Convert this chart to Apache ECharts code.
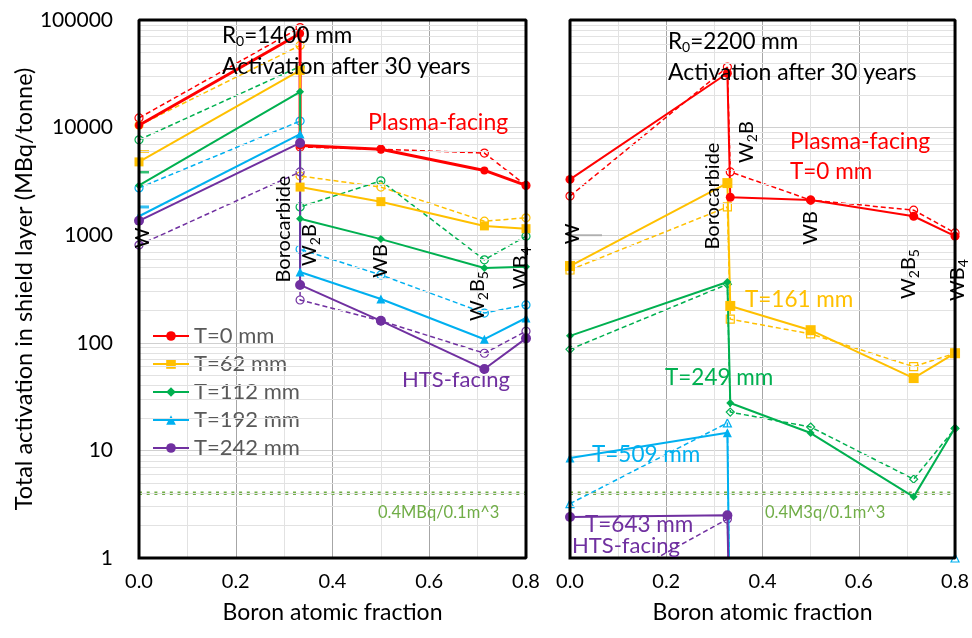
<!DOCTYPE html>
<html>
<head>
<meta charset="utf-8">
<script src="https://cdn.jsdelivr.net/npm/echarts@6/dist/echarts.min.js"></script>
<style>html,body{margin:0;padding:0;background:#fff}#main{width:972px;height:638px}</style>
</head>
<body>
<div id="main"></div>
<script>
// boron atomic fraction: W, borocarbide, W2B, WB, W2B5, WB4
var xLeft  = [0, 0.333, 0.333, 0.5, 0.714, 0.8];
var xRight = [0, 0.327, 0.333, 0.5, 0.714, 0.8];
var xTicks = [0, 0.2, 0.4, 0.6, 0.8];
var yTicks = [1, 10, 100, 1000, 10000, 100000];
var limitValue = 4; // 0.4MBq/0.1m^3

// R0 = 1400 mm
var namesLeft = ['T=0 mm', 'T=62 mm', 'T=112 mm', 'T=192 mm', 'T=242 mm'];
var left0   = [10500, 75000, 6800, 6300, 4000, 2900];
var left62  = [4800, 34000, 2800, 2050, 1220, 1150];
var left112 = [2900, 21500, 1420, 920, 495, 510];
var left192 = [1500, 8700, 455, 255, 108, 170];
var left242 = [1360, 7200, 345, 160, 57, 110];
var left0d   = [12300, 85000, 6600, 6300, 5800, 2900];
var left62d  = [10500, 58000, 3550, 2800, 1350, 1450];
var left112d = [7700, 37000, 1830, 3200, 590, 980];
var left192d = [2750, 11500, 740, 427, 189, 225];
var left242d = [810, 3870, 250, 160, 80, 128];
var leftTicksW = [6000, 3870, 1830];

// R0 = 2200 mm
var namesRight = ['T=0 mm', 'T=161 mm', 'T=249 mm', 'T=509 mm', 'T=643 mm'];
var right0   = [3300, 32000, 2250, 2120, 1500, 980];
var right161 = [517, 3050, 220, 131, 47, 80];
var right249 = [116, 367, 27.6, 14.5, 3.7, 16.2];
var right509 = [8.5, 14.6, 0.1, 0.1, 0.1, 0.1];
var right643 = [2.4, 2.5, 0.1, 0.1, 0.1, 0.1];
var right0d   = [2310, 36500, 3870, 2120, 1710, 1050];
var right161d = [475, 1830, 166, 121, 60, 80];
var right249d = [87, 350, 22.7, 16.5, 5.4, 16];
var right509d = [3.2, 18, 0.1, 0.1, 0.1, 1];
var right643d = [0.36, 2.3, 0.1, 0.1, 0.1, 0.1];
var rightTickW = [1000];

var colors = ['#ff0000', '#ffc000', '#00b050', '#00b0f0', '#7030a0'];
var FONT = 'Lato';

function pairs(xs, ys) {
  return xs.map(function (x, i) { return [x, ys[i]]; });
}

function solid(name, xs, ys, c, sym, size, idx, w) {
  return {
    name: name, type: 'line', xAxisIndex: idx, yAxisIndex: idx,
    data: pairs(xs, ys), symbol: sym, symbolSize: size, z: 5,
    itemStyle: {color: c}, lineStyle: {color: c, width: w || 2},
    animation: false
  };
}
function dashed(name, xs, ys, c, sym, size, idx) {
  return {
    name: name + ' (dash)', type: 'line', xAxisIndex: idx, yAxisIndex: idx,
    data: pairs(xs, ys), symbol: sym, symbolSize: size, z: 4,
    itemStyle: {color: 'rgba(255,255,255,0)', borderColor: c, borderWidth: 1.2},
    lineStyle: {color: c, width: 1.5, type: [5, 3]},
    animation: false
  };
}

// light log grid lines at 2..9 x 10^k
var minorVals = [];
[1, 10, 100, 1000, 10000].forEach(function (d) {
  [2, 3, 4, 5, 6, 7, 8, 9].forEach(function (m) { minorVals.push({yAxis: d * m}); });
});
function gridSeries(idx) {
  return {
    type: 'line', xAxisIndex: idx, yAxisIndex: idx, data: [], silent: true, z: 1,
    markLine: {silent: true, symbol: 'none', label: {show: false}, animation: false,
      lineStyle: {color: '#e2e2e2', width: 1, type: 'solid'}, data: minorVals}
  };
}
function limitSeries(idx) {
  return {
    type: 'line', xAxisIndex: idx, yAxisIndex: idx, symbol: 'none', z: 3,
    data: [[xTicks[0], limitValue], [xTicks[xTicks.length - 1], limitValue]],
    lineStyle: {color: '#70ad47', width: 3.5, type: [3, 4.7]}, animation: false
  };
}
// panel box drawn on the axes' own scale
function boxSeries(idx) {
  var x0 = xTicks[0], x1 = xTicks[xTicks.length - 1];
  var y0 = yTicks[0], y1 = yTicks[yTicks.length - 1];
  return {
    type: 'line', xAxisIndex: idx, yAxisIndex: idx, symbol: 'none', z: 8, silent: true,
    clip: false,
    data: [[x0, y0], [x1, y0], [x1, y1], [x0, y1], [x0, y0]],
    lineStyle: {color: '#000', width: 3, cap: 'square'}, animation: false
  };
}

var series = [gridSeries(0), gridSeries(1), limitSeries(0), limitSeries(1), boxSeries(0), boxSeries(1)];

var L = [left0, left62, left112, left192, left242];
var Ld = [left0d, left62d, left112d, left192d, left242d];
var symsL = ['circle', 'rect', 'diamond', 'triangle', 'circle'];
var sizesL = [8, 9, 8, 9, 10];
for (var i = 0; i < 5; i++) {
  series.push(dashed(namesLeft[i], xLeft, Ld[i], colors[i], 'circle', 8, 0));
}
for (var i = 0; i < 5; i++) {
  series.push(solid(namesLeft[i], xLeft, L[i], colors[i], symsL[i], sizesL[i], 0, i === 0 ? 3 : 2));
}
series.push({
  type: 'scatter', xAxisIndex: 0, yAxisIndex: 0, symbol: 'rect', symbolSize: [10, 3], symbolOffset: [5, 0],
  data: leftTicksW.map(function (v, i) { return {value: [xLeft[0], v], itemStyle: {color: colors[i + 1]}}; }),
  z: 3, animation: false
});

var R = [right0, right161, right249, right509, right643];
var Rd = [right0d, right161d, right249d, right509d, right643d];
var symsR = ['circle', 'rect', 'diamond', 'triangle', 'circle'];
var sizesR = [9, 10, 8, 9, 10];
for (var i = 0; i < 5; i++) {
  series.push(dashed(namesRight[i], xRight, Rd[i], colors[i], symsR[i], 8, 1));
}
for (var i = 0; i < 5; i++) {
  series.push(solid(namesRight[i] + ' ', xRight, R[i], colors[i], symsR[i], sizesR[i], 1, 2));
}
series.push({
  type: 'scatter', xAxisIndex: 1, yAxisIndex: 1, symbol: 'rect', symbolSize: [32, 2], symbolOffset: [16, 0],
  data: rightTickW.map(function (v) { return [xRight[0], v]; }),
  itemStyle: {color: '#a6a6a6'}, z: 3, animation: false
});

function xAxis(idx) {
  return {
    type: 'value', gridIndex: idx, min: xTicks[0], max: xTicks[xTicks.length - 1], interval: 0.2,
    name: 'Boron atomic fraction', nameLocation: 'middle', nameGap: 43,
    nameTextStyle: {fontSize: 23, color: '#000', fontFamily: FONT},
    axisLine: {show: false}, axisTick: {show: false},
    axisLabel: {fontSize: 20, color: '#000', margin: 14, fontFamily: FONT,
      formatter: function (v) { return v.toFixed(1); }},
    splitLine: {show: true, lineStyle: {color: '#a6a6a6', width: 1}},
    minorTick: {show: false, splitNumber: 2},
    minorSplitLine: {show: true, lineStyle: {color: '#e2e2e2', width: 1}}
  };
}
function yAxis(idx) {
  return {
    type: 'log', logBase: 10, gridIndex: idx, min: yTicks[0], max: yTicks[yTicks.length - 1],
    name: idx === 0 ? 'Total activation in shield layer (MBq/tonne)' : '',
    nameLocation: 'middle', nameGap: 101,
    nameTextStyle: {fontSize: 23.5, color: '#000', fontFamily: FONT},
    axisLine: {show: false}, axisTick: {show: false},
    axisLabel: {show: idx === 0, fontSize: 21, color: '#000', margin: 26, fontFamily: FONT,
      formatter: function (v) { return String(v); }},
    splitLine: {show: true, lineStyle: {color: '#d0d0d0', width: 1}}
  };
}

function txt(x, y, text, color, size, extra) {
  var st = {text: text, fill: color, fontSize: size, fontFamily: FONT, align: 'left', verticalAlign: 'middle'};
  var el = {type: 'text', x: x, y: y, z: 100, style: st};
  if (extra) {
    if (extra.rotation) el.rotation = extra.rotation;
    if (extra.align) st.align = extra.align;
    if (extra.rich) st.rich = extra.rich;
  }
  return el;
}
var subRich = {s: {fontSize: 14, fontFamily: FONT, padding: [11, 0, 0, 0]}};
var rotSize = 20;
function rot(x, y, text) {
  return txt(x, y, text, '#000', rotSize, {rotation: Math.PI / 2, align: 'center', rich: subRich});
}

var graphics = [
  txt(222, 36, 'R{s|0}=1400 mm', '#000', 22.5, {rich: subRich}),
  txt(222, 67, 'Activation after 30 years', '#000', 23),
  txt(368, 123, 'Plasma-facing', '#ff0000', 23),
  txt(402, 380, 'HTS-facing', '#7030a0', 22),
  txt(378, 513, '0.4MBq/0.1m^3', '#70ad47', 16.5),
  rot(143, 238, 'W'),
  rot(284, 229, 'Borocarbide'),
  rot(310, 245, 'W{s|2}B'),
  rot(381, 261, 'WB'),
  rot(478, 296, 'W{s|2}B{s|5}'),
  rot(521, 268, 'WB{s|4}'),

  txt(668, 42, 'R{s|0}=2200 mm', '#000', 22.5, {rich: subRich}),
  txt(668, 73, 'Activation after 30 years', '#000', 23),
  txt(790, 142, 'Plasma-facing', '#ff0000', 23),
  txt(790, 172, 'T=0 mm', '#ff0000', 22.5),
  txt(745, 300, 'T=161 mm', '#ffc000', 22.5),
  txt(665, 378, 'T=249 mm', '#00b050', 22.5),
  txt(592, 455, 'T=509 mm', '#00b0f0', 22.5),
  txt(585, 525, 'T=643 mm', '#7030a0', 22.5),
  txt(572, 546, 'HTS-facing', '#7030a0', 22),
  txt(765, 513, '0.4M3q/0.1m^3', '#70ad47', 16.5),
  rot(573, 234, 'W'),
  rot(713, 196, 'Borocarbide'),
  rot(747, 142, 'W{s|2}B'),
  rot(811, 228, 'WB'),
  rot(909, 274, 'W{s|2}B{s|5}'),
  rot(958, 280, 'WB{s|4}')
];

var chart = echarts.init(document.getElementById('main'));
chart.setOption({
  animation: false,
  textStyle: {fontFamily: FONT},
  grid: [
    {left: 139, top: 20, width: 387, height: 538},
    {left: 570, top: 20, width: 387, height: 538}
  ],
  xAxis: [xAxis(0), xAxis(1)],
  yAxis: [yAxis(0), yAxis(1)],
  legend: {
    data: namesLeft, orient: 'vertical', left: 147, top: 320,
    itemWidth: 36, itemHeight: 12, itemGap: 6,
    textStyle: {fontSize: 22, color: '#595959', fontFamily: FONT}
  },
  graphic: graphics,
  series: series
});
</script>
</body>
</html>
